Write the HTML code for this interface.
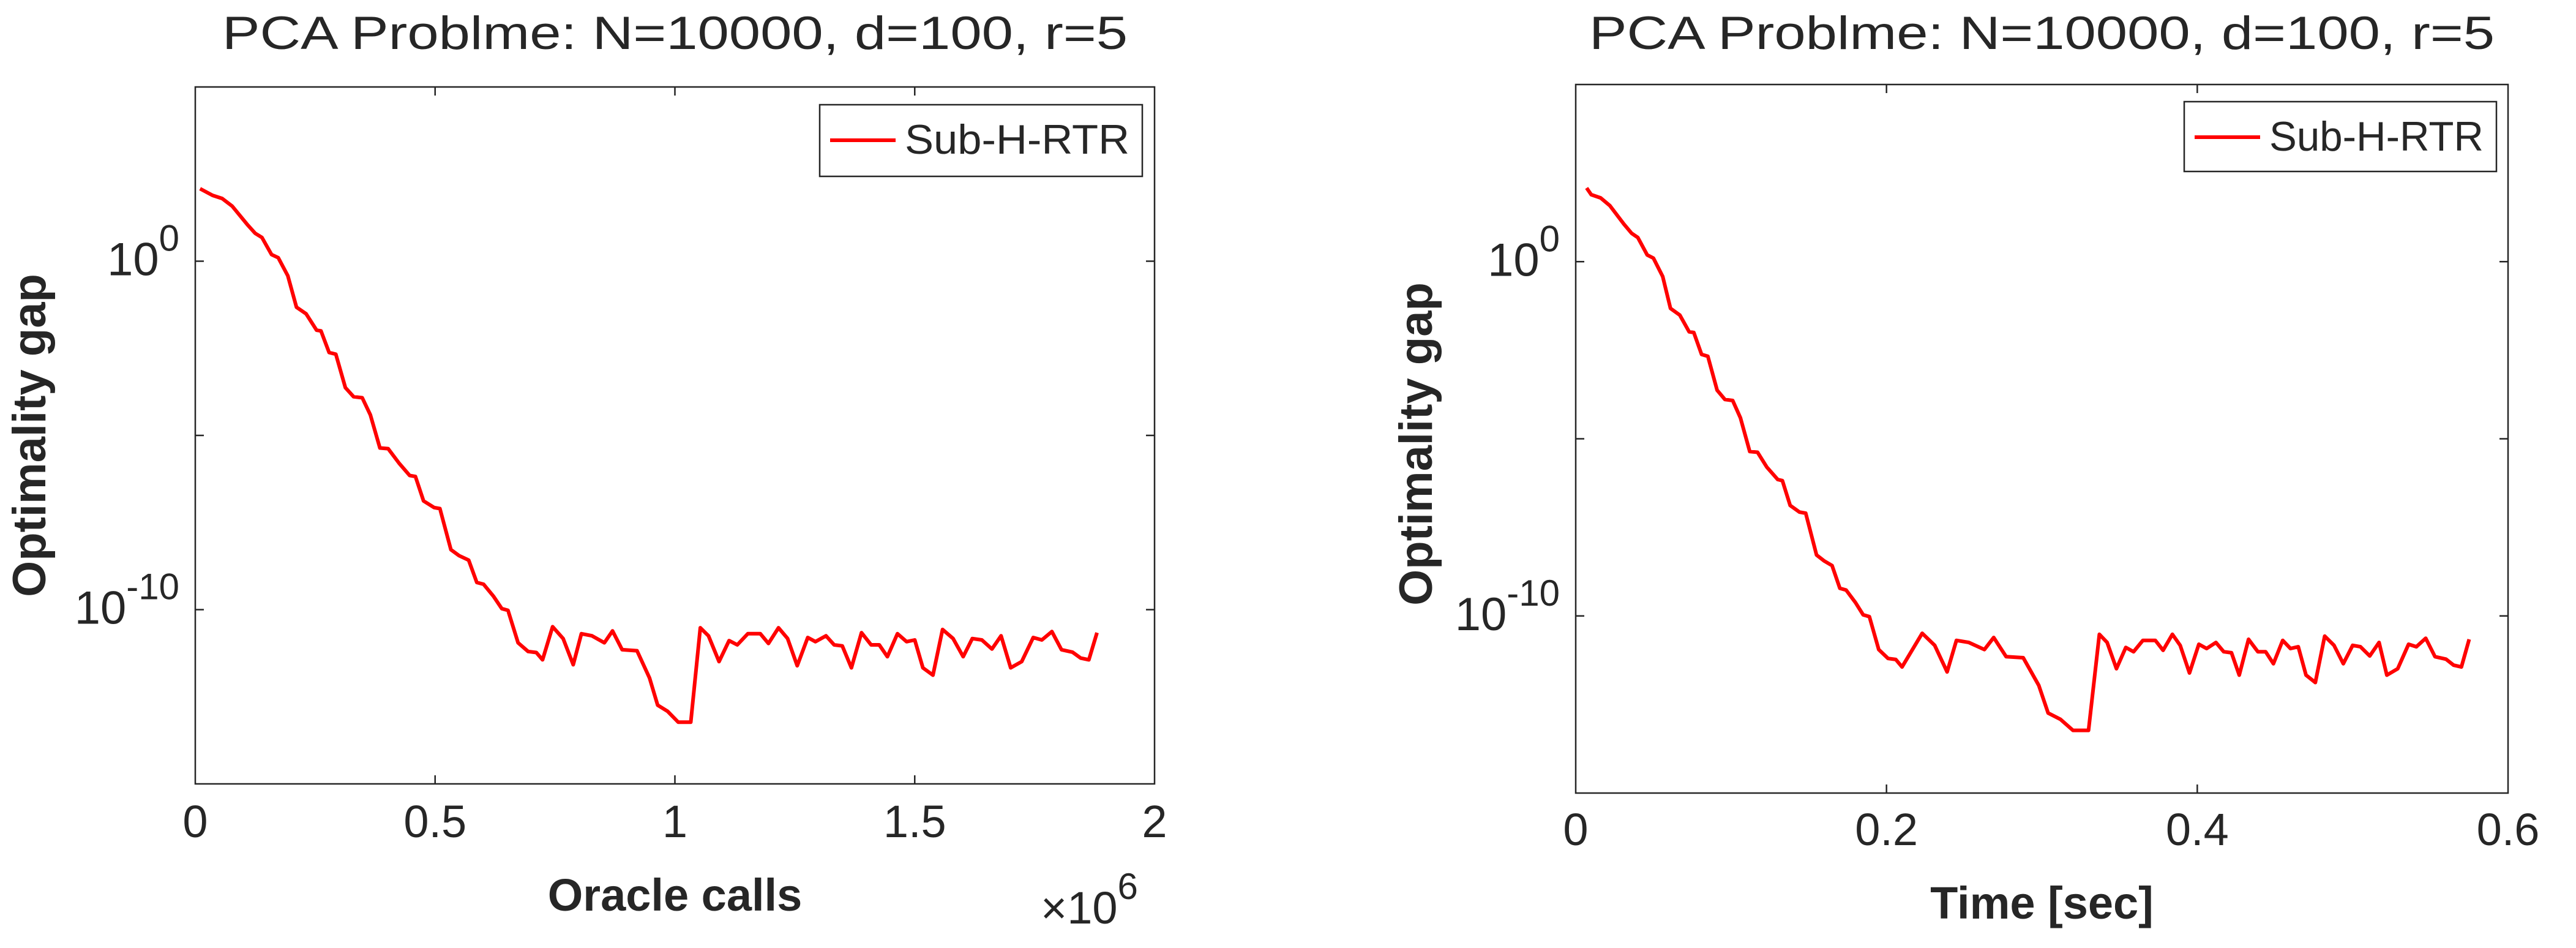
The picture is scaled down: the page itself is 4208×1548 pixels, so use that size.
<!DOCTYPE html>
<html><head><meta charset="utf-8"><style>
html,body{margin:0;padding:0;background:#fff;}
svg{display:block;}
text{font-family:"Liberation Sans",sans-serif;fill:#262626;}
</style></head><body>
<svg id="chart" width="4208" height="1548" viewBox="0 0 4208 1548" xmlns="http://www.w3.org/2000/svg">
<g id="p1"></g>
<g id="p2"></g>
</svg>
<script>
const oracleCalls = [0.010,0.036,0.056,0.077,0.108,0.125,0.139,0.159,0.173,0.193,0.211,0.231,0.253,0.262,0.279,0.293,0.313,0.330,0.348,0.365,0.385,0.402,0.425,0.447,0.459,0.476,0.498,0.510,0.533,0.550,0.570,0.587,0.601,0.622,0.639,0.652,0.673,0.694,0.711,0.724,0.745,0.767,0.788,0.805,0.827,0.853,0.870,0.890,0.921,0.947,0.964,0.985,1.007,1.033,1.053,1.070,1.092,1.113,1.130,1.152,1.178,1.195,1.216,1.235,1.255,1.277,1.293,1.315,1.332,1.349,1.368,1.389,1.409,1.426,1.443,1.464,1.483,1.500,1.517,1.538,1.558,1.580,1.601,1.620,1.640,1.661,1.680,1.700,1.723,1.747,1.765,1.786,1.806,1.829,1.846,1.863,1.880];
const timeSec = [0.007,0.010,0.016,0.022,0.031,0.036,0.040,0.046,0.050,0.056,0.061,0.067,0.073,0.076,0.081,0.085,0.091,0.096,0.101,0.106,0.112,0.117,0.123,0.130,0.133,0.138,0.144,0.148,0.155,0.160,0.165,0.170,0.174,0.180,0.185,0.189,0.195,0.201,0.206,0.210,0.223,0.231,0.239,0.245,0.253,0.263,0.269,0.277,0.288,0.298,0.304,0.312,0.320,0.330,0.337,0.342,0.348,0.354,0.359,0.365,0.373,0.378,0.384,0.389,0.395,0.401,0.406,0.412,0.417,0.422,0.427,0.433,0.439,0.444,0.449,0.455,0.460,0.465,0.470,0.476,0.482,0.488,0.494,0.500,0.505,0.511,0.517,0.522,0.529,0.536,0.541,0.547,0.553,0.560,0.565,0.570,0.575];
const gapExponent = [2.08,1.89,1.80,1.58,1.06,0.80,0.68,0.19,0.10,-0.42,-1.32,-1.51,-1.98,-2.00,-2.62,-2.67,-3.63,-3.89,-3.92,-4.41,-5.36,-5.38,-5.80,-6.15,-6.18,-6.88,-7.07,-7.10,-8.28,-8.45,-8.58,-9.22,-9.27,-9.62,-9.97,-10.02,-10.95,-11.20,-11.23,-11.44,-10.49,-10.83,-11.58,-10.69,-10.75,-10.95,-10.61,-11.15,-11.18,-11.96,-12.74,-12.92,-13.23,-13.23,-10.52,-10.75,-11.49,-10.89,-11.01,-10.69,-10.69,-10.97,-10.52,-10.83,-11.61,-10.80,-10.92,-10.75,-11.01,-11.04,-11.67,-10.66,-11.01,-11.01,-11.35,-10.69,-10.92,-10.87,-11.67,-11.88,-10.57,-10.83,-11.35,-10.83,-10.87,-11.13,-10.75,-11.67,-11.49,-10.80,-10.87,-10.63,-11.15,-11.22,-11.39,-11.44,-10.66];
const xTicks1 = [0,0.5,1,1.5,2];
const xTickLabels1 = ["0","0.5","1","1.5","2"];
const xTicks2 = [0,0.2,0.4,0.6];
const xTickLabels2 = ["0","0.2","0.4","0.6"];
const yTicks = [-10,-5,0];
const yLabeled = [-10,0];

const NS="http://www.w3.org/2000/svg";
function mk(parent,tag,attrs,txt){const e=document.createElementNS(NS,tag);for(const k in attrs)e.setAttribute(k,attrs[k]);if(txt!==undefined)e.textContent=txt;parent.appendChild(e);return e;}

function panel(g,o){
  const X=v=>o.l+(v-o.xmin)/(o.xmax-o.xmin)*(o.r-o.l);
  const Y=e=>o.t+(o.ymax-e)/(o.ymax-o.ymin)*(o.b-o.t);
  const title=mk(g,'text',{x:(o.l+o.r)/2,y:o.titleY,'text-anchor':'middle','font-size':76,textLength:1479,lengthAdjust:'spacingAndGlyphs'},'PCA Problme: N=10000, d=100, r=5');
  
  
  const box=mk(g,'rect',{x:o.l,y:o.t,width:o.r-o.l,height:o.b-o.t,fill:'none',stroke:'#262626','stroke-width':2.5});
  
  
  o.xt.forEach((v,i)=>{
    const x=X(v);
    if(i>0&&i<o.xt.length-1){
      mk(g,'line',{x1:x,x2:x,y1:o.b,y2:o.b-14,stroke:'#262626','stroke-width':2.5});
      mk(g,'line',{x1:x,x2:x,y1:o.t,y2:o.t+14,stroke:'#262626','stroke-width':2.5});
    }
    const t=mk(g,'text',{x:x,y:o.tickY,'text-anchor':'middle','font-size':74},o.xl[i]);
    
    
  });
  yTicks.forEach(e=>{
    const y=Y(e);
    mk(g,'line',{x1:o.l,x2:o.l+14,y1:y,y2:y,stroke:'#262626','stroke-width':2.5});
    mk(g,'line',{x1:o.r,x2:o.r-14,y1:y,y2:y,stroke:'#262626','stroke-width':2.5});
    if(yLabeled.includes(e)){
      const t=mk(g,'text',{x:o.l-26,y:y+23,'text-anchor':'end','font-size':76});
      
      
      mk(t,'tspan',{},'10');
      mk(t,'tspan',{dy:-40,'font-size':60},String(e));
    }
  });
  const pts=o.xs.map((v,i)=>X(v).toFixed(1)+','+Y(gapExponent[i]).toFixed(1)).join(' ');
  const line=mk(g,'polyline',{points:pts,fill:'none',stroke:'#ff0000','stroke-width':6,'stroke-linejoin':'round'});
  
  
  const xl=mk(g,'text',{x:(o.l+o.r)/2,y:o.xlabY,'text-anchor':'middle','font-size':74,'font-weight':'bold'},o.xlab);
  
  
  const yl=mk(g,'text',{x:o.ylabX,y:o.ylabY,'text-anchor':'middle','font-size':76,'font-weight':'bold',transform:`rotate(-90 ${o.ylabX} ${o.ylabY})`},'Optimality gap');
  
  
  const lg=mk(g,'g',{});
  
  
  mk(lg,'rect',{x:o.lg[0],y:o.lg[1],width:o.lg[2],height:o.lg[3],fill:'#fff',stroke:'#262626','stroke-width':2.5});
  mk(lg,'line',{x1:o.lg[0]+17,x2:o.lg[0]+124,y1:o.lg[1]+58,y2:o.lg[1]+58,stroke:'#ff0000','stroke-width':6});
  const lt=mk(lg,'text',{x:o.lg[0]+139,y:o.lg[1]+80,'font-size':68,textLength:o.lg[2]-160,lengthAdjust:'spacingAndGlyphs'},'Sub-H-RTR');
  
  
}
panel(document.getElementById('p1'),{l:319,r:1886,t:142,b:1280,xmin:0,xmax:2,ymin:-15,ymax:5,xs:oracleCalls,xt:xTicks1,xl:xTickLabels1,titleY:80,tickY:1367,xlab:'Oracle calls',xlabY:1487,ylabX:74,ylabY:711,lg:[1339,171,527,117]});
panel(document.getElementById('p2'),{l:2574,r:4097,t:138,b:1295,xmin:0,xmax:0.6,ymin:-15,ymax:5,xs:timeSec,xt:xTicks2,xl:xTickLabels2,titleY:80,tickY:1380,xlab:'Time [sec]',xlabY:1500,ylabX:2339,ylabY:725,lg:[3568,166,510,114]});
const sv=document.getElementById('chart');
const m=mk(sv,'text',{x:1700,y:1508,'font-size':74});


mk(m,'tspan',{},'×10');
mk(m,'tspan',{dy:-40,'font-size':60},'6');
</script>
</body></html>
